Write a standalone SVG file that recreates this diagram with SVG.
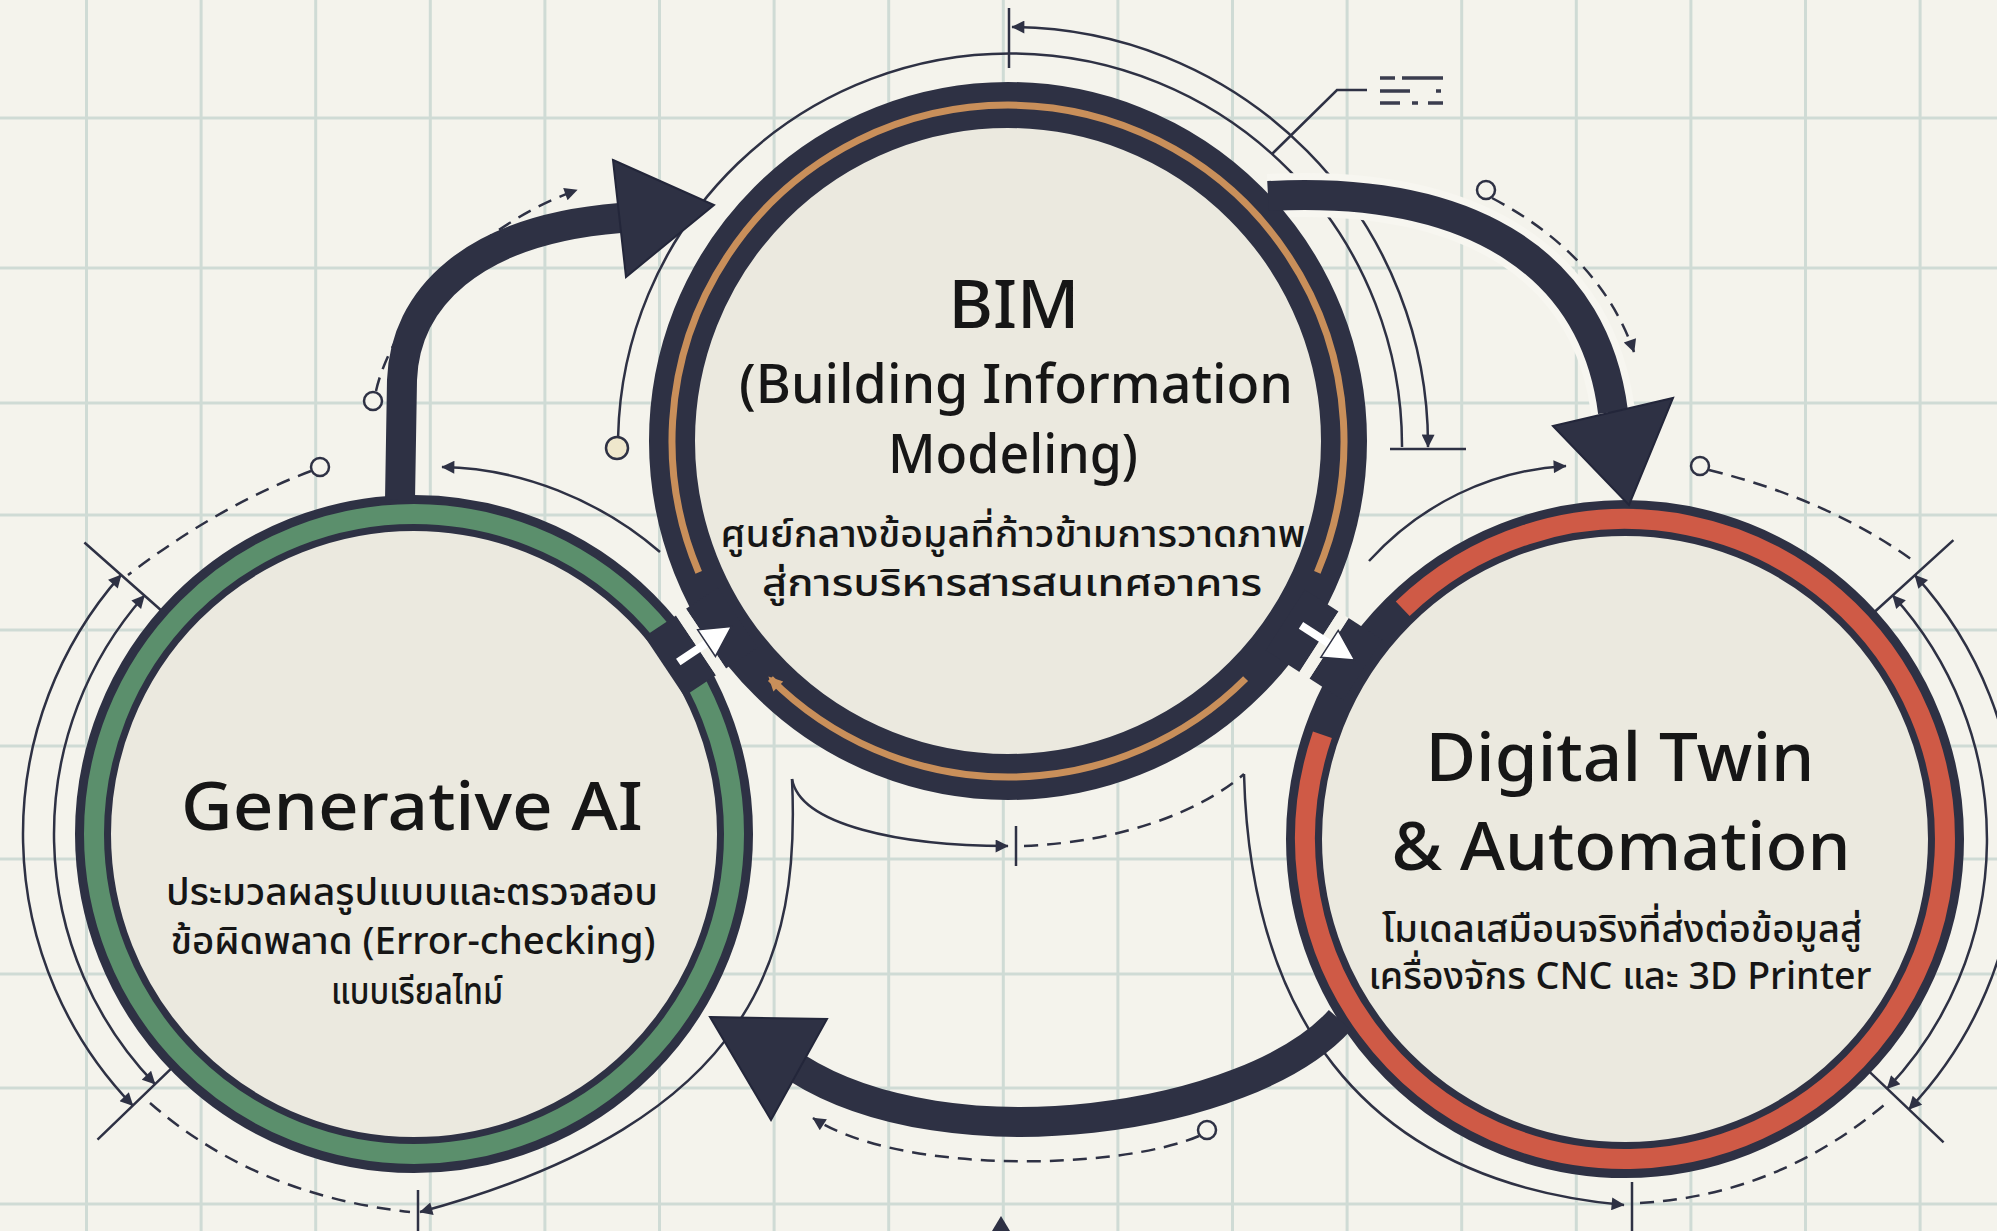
<svg xmlns="http://www.w3.org/2000/svg" width="1997" height="1231" viewBox="0 0 1997 1231">
<defs>
<style>
.grid{stroke:#cfdbd5;stroke-width:3}
.thin{fill:none;stroke:#2e3144;stroke-width:2.5}
.dash{stroke-dasharray:14 9}
.tick{stroke:#2e3144;stroke-width:2.5}
.dot{fill:#f4f3ec;stroke:#2e3144;stroke-width:2.5}
.body{fill:none;stroke:#2e3144;stroke-width:30}
.halo{fill:none;stroke:#f7f6f0;stroke-width:44}
.head{fill:#2e3144;stroke:#23263a;stroke-width:2;stroke-linejoin:miter}
.t{font-family:'Noto Sans','Noto Sans Thai',sans-serif;fill:#161616;text-anchor:middle}
.title{font-size:68px;font-weight:500}
.sub{font-size:54px;font-weight:500}
.th{font-size:38px;font-weight:500}
.fill{fill:#ebe9df}
.dark{fill:none;stroke:#2e3144}
.jblk{fill:#2e3144}
.jgap{fill:#f4f3ec}
.jstem{stroke:#fff;stroke-width:8}
.jhead{fill:#fff;stroke:#2e3144;stroke-width:1.5}
</style>
<marker id="ah" viewBox="0 0 10 10" refX="9.5" refY="5" markerWidth="18" markerHeight="13" markerUnits="userSpaceOnUse" orient="auto-start-reverse"><path d="M0,0 L10,5 L0,10 z" fill="#2e3144"/></marker>
<marker id="oh" viewBox="0 0 10 10" refX="8" refY="5" markerWidth="16" markerHeight="14" markerUnits="userSpaceOnUse" orient="auto"><path d="M0,0 L10,5 L0,10 z" fill="#c98f5a"/></marker>
</defs>
<rect width="1997" height="1231" fill="#f4f3ec"/>
<g id="grid">
<path class="grid" d="M86.5,0V1231M201.1,0V1231M315.7,0V1231M430.3,0V1231M544.9,0V1231M659.5,0V1231M774.1,0V1231M888.7,0V1231M1003.3,0V1231M1117.9,0V1231M1232.5,0V1231M1347.1,0V1231M1461.7,0V1231M1576.3,0V1231M1690.9,0V1231M1805.5,0V1231M1920.1,0V1231"/>
<path class="grid" d="M0,118H1997M0,268H1997M0,403H1997M0,515H1997M0,630H1997M0,746H1997M0,859H1997M0,974H1997M0,1088H1997M0,1204H1997"/>
</g>
<g id="connectors">
<path class="thin dash" d="M376,391 C392,320 470,228 577,190" marker-end="url(#ah)"/>
<circle class="dot" cx="373" cy="401" r="9"/>
<path class="thin dash" d="M311,471 Q220,505 128,575"/>
<circle class="dot" cx="320" cy="467" r="9"/>
<path class="thin" d="M121.1,574.9 A391,391 0 0 0 132.8,1105.6" marker-start="url(#ah)" marker-end="url(#ah)"/>
<path class="thin" d="M144.4,595.5 A360,360 0 0 0 155,1084.1" marker-start="url(#ah)" marker-end="url(#ah)"/>
<path class="tick" d="M160.8,610 L84.4,542.5 M170.9,1068.8 L97.5,1139.7"/>
<path class="thin dash" d="M150,1103 Q255,1195 410,1212"/>
<path class="tick" d="M418,1190 V1231"/>
<path class="thin" d="M792,779 C800,950 760,1120 420,1212" marker-end="url(#ah)"/>
<path class="thin" d="M792,779 C800,825 900,846 1008,846" marker-end="url(#ah)"/>
<path class="tick" d="M1016,826 V866"/>
<path class="thin dash" d="M1024,846 C1120,842 1200,812 1244,774"/>
<path class="thin" d="M1244,774 C1250,1000 1350,1180 1624,1205" marker-end="url(#ah)"/>
<path class="tick" d="M1632,1182 V1231"/>
<path class="thin dash" d="M1640,1203 Q1780,1195 1890,1100"/>
<path class="thin" d="M660,552 C600,500 520,468 442,467" marker-end="url(#ah)"/>
<path class="thin" d="M618.1,436.8 A392,392 0 0 1 1402,447"/>
<circle cx="617" cy="448" r="11" fill="#efe7cc" stroke="#2e3144" stroke-width="2.5"/>
<path class="thin" d="M1012,27 A418,418 0 0 1 1428,447" marker-start="url(#ah)" marker-end="url(#ah)"/>
<path class="tick" d="M1009,8 V68 M1390,449 H1466"/>
<path class="thin" d="M1272,154 L1337,90 L1367,90"/>
<path d="M1380,78 H1395 M1402,78 H1443 M1380,91 H1410 M1436,91 H1441 M1380,103 H1400 M1412,103 H1418 M1428,103 H1443" stroke="#3a3d4e" stroke-width="3.5"/>
<path class="thin dash" d="M1492,198 Q1600,255 1634,352" marker-end="url(#ah)"/>
<circle class="dot" cx="1486" cy="190" r="9"/>
<path class="thin" d="M1369,561 C1420,505 1490,470 1566,466" marker-end="url(#ah)"/>
<path class="thin dash" d="M1709,470 Q1830,500 1915,562"/>
<circle class="dot" cx="1700" cy="466" r="9"/>
<path class="thin" d="M1892.7,595.4 A362,362 0 0 1 1887.2,1088.6" marker-start="url(#ah)" marker-end="url(#ah)"/>
<path class="thin" d="M1914.9,575.2 A392,392 0 0 1 1908.9,1109.3" marker-start="url(#ah)" marker-end="url(#ah)"/>
<path class="tick" d="M1875,611.5 L1953.4,540.2 M1869.8,1072.1 L1943.6,1142.4"/>
<path class="thin dash" d="M1199,1136 C1120,1170 900,1175 813,1118" marker-end="url(#ah)"/>
<circle class="dot" cx="1207" cy="1130" r="9"/>
<path d="M992,1231 L1001,1216 L1010,1231 z" fill="#2e3144"/>
<path class="halo" d="M1268,196 C1480,185 1595,270 1613,412"/>
</g>
<g id="node-bim">
<circle class="fill" cx="1008" cy="441" r="336"/>
<circle class="dark" cx="1008" cy="441" r="336" stroke-width="46"/>
<path d="M698.7,572.3 A336,336 0 1 1 1317.3,572.3" fill="none" stroke="#c98f5a" stroke-width="7"/>
<path d="M1245.6,678.6 A336,336 0 0 1 770.4,678.6" fill="none" stroke="#c98f5a" stroke-width="7" marker-end="url(#oh)"/>
<text class="t title" x="1014" y="328" textLength="131" lengthAdjust="spacingAndGlyphs">BIM</text>
<text class="t sub" x="1016" y="403" textLength="554" lengthAdjust="spacingAndGlyphs">(Building Information</text>
<text class="t sub" x="1013" y="473" textLength="250" lengthAdjust="spacingAndGlyphs">Modeling)</text>
<text class="t th" x="1013" y="547" textLength="585" lengthAdjust="spacingAndGlyphs">ศูนย์กลางข้อมูลที่ก้าวข้ามการวาดภาพ</text>
<text class="t th" x="1012" y="596" textLength="500" lengthAdjust="spacingAndGlyphs">สู่การบริหารสารสนเทศอาคาร</text>
</g>
<g id="node-genai">
<circle class="fill" cx="414" cy="834" r="321"/>
<circle class="dark" cx="414" cy="834" r="321" stroke-width="36"/>
<circle cx="414" cy="834" r="320" fill="none" stroke="#5b8f6c" stroke-width="20"/>
<text class="t title" x="412" y="830" textLength="462" lengthAdjust="spacingAndGlyphs">Generative AI</text>
<text class="t th" x="412" y="905" textLength="492" lengthAdjust="spacingAndGlyphs">ประมวลผลรูปแบบและตรวจสอบ</text>
<text class="t th" x="413" y="954" textLength="485" lengthAdjust="spacingAndGlyphs">ข้อผิดพลาด (Error-checking)</text>
<text class="t th" x="417" y="1004" textLength="172" lengthAdjust="spacingAndGlyphs">แบบเรียลไทม์</text>
</g>
<g id="node-twin">
<circle class="fill" cx="1625" cy="839" r="321"/>
<circle class="dark" cx="1625" cy="839" r="321" stroke-width="36"/>
<path d="M1402.7,608.8 A320,320 0 1 1 1322.4,734.8" fill="none" stroke="#cf5a46" stroke-width="20"/>
<text class="t title" x="1620" y="781" textLength="389" lengthAdjust="spacingAndGlyphs">Digital Twin</text>
<text class="t title" x="1621" y="870" textLength="459" lengthAdjust="spacingAndGlyphs">&amp; Automation</text>
<text class="t th" x="1622" y="942" textLength="480" lengthAdjust="spacingAndGlyphs">โมเดลเสมือนจริงที่ส่งต่อข้อมูลสู่</text>
<text class="t th" x="1620" y="989" textLength="503" lengthAdjust="spacingAndGlyphs">เครื่องจักร CNC และ 3D Printer</text>
</g>
<g id="arrows">
<path class="body" d="M400,500 L402,380 C405,300 470,230 620,218"/>
<polygon class="head" points="613,160 714,205 626,277"/>
<path class="body" d="M1268,196 C1480,185 1595,270 1613,412"/>
<polygon class="head" points="1553,426 1673,398 1629,505"/>
<path class="body" d="M1340,1020 C1250,1120 950,1165 797,1068"/>
<polygon class="head" points="710,1017 827,1019 771,1120"/>
</g>
<g id="junction-left" transform="translate(701,642) rotate(-33.7)">
<rect class="jblk" x="-44" y="-36" width="38" height="72"/>
<rect class="jblk" x="6" y="-36" width="38" height="72"/>
<rect class="jgap" x="-6" y="-36" width="12" height="72"/>
<path class="jstem" d="M-30,4 H6"/>
<polygon class="jhead" points="4,-12 34,4 4,20"/>
</g>
<g id="junction-right" transform="translate(1324,645) rotate(32.9)">
<rect class="jblk" x="-46" y="-36" width="40" height="72"/>
<rect class="jblk" x="6" y="-36" width="40" height="72"/>
<rect class="jgap" x="-6" y="-36" width="12" height="72"/>
<path class="jstem" d="M-30,-4 H6"/>
<polygon class="jhead" points="4,-20 34,-4 4,12"/>
</g>
</svg>
